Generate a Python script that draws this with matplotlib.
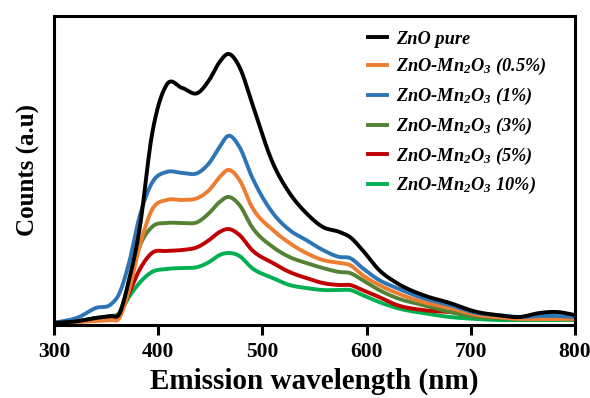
import matplotlib
matplotlib.use('Agg')
import matplotlib.pyplot as plt
import numpy as np

plt.rcParams['font.family'] = 'Liberation Serif'
plt.rcParams['mathtext.fontset'] = 'custom'
plt.rcParams['mathtext.rm'] = 'Liberation Serif:italic:bold'
plt.rcParams['mathtext.it'] = 'Liberation Serif:italic:bold'
plt.rcParams['mathtext.bf'] = 'Liberation Serif:italic:bold'

# wavelength grid (nm) and PL counts (a.u.)
wl = [300, 324, 340, 355, 362, 372, 382, 394, 408, 423, 438, 449, 459, 467, 478,
      490, 510, 526, 542, 558, 574, 584, 596, 612, 629, 654, 680, 706, 725, 747,
      766, 783, 800]

zno_pure = [2, 4, 7, 9, 10, 45, 95, 190, 240, 237, 232, 245, 263, 271, 258,
            222, 162, 132, 112, 98, 93, 88, 75, 55, 42, 30, 22, 13, 10, 8,
            12, 13, 10]
mn_05 = [2, 3, 4, 5, 6, 35, 78, 115, 125, 125, 127, 135, 148, 155, 145,
         118, 95, 82, 72, 65, 62, 60, 50, 40, 32, 23, 17, 10, 8, 6,
         6, 6, 6]
mn_1 = [2, 8, 17, 21, 30, 62, 108, 142, 153, 152, 152, 162, 178, 189, 178,
        148, 112, 95, 85, 75, 68, 67, 57, 45, 37, 27, 20, 12, 10, 8,
        9, 9, 8]
mn_3 = [2, 4, 7, 9, 11, 42, 78, 98, 102, 102, 103, 112, 123, 128, 120,
        98, 78, 68, 62, 57, 53, 52, 45, 35, 27, 20, 13, 8, 7, 6,
        6, 6, 6]
mn_5 = [2, 4, 6, 8, 10, 32, 55, 72, 74, 75, 78, 85, 93, 96, 90,
        75, 62, 53, 47, 42, 40, 40, 35, 28, 20, 15, 13, 10, 8, 7,
        7, 7, 7]
mn_10 = [2, 4, 7, 9, 11, 28, 42, 53, 56, 57, 58, 63, 70, 72, 69,
         57, 47, 40, 37, 35, 35, 35, 30, 23, 17, 12, 8, 6, 5, 5,
         5, 5, 5]

labels = ['ZnO pure',
          'ZnO-Mn$_2$O$_3$ (0.5%)',
          'ZnO-Mn$_2$O$_3$ (1%)',
          'ZnO-Mn$_2$O$_3$ (3%)',
          'ZnO-Mn$_2$O$_3$ (5%)',
          'ZnO-Mn$_2$O$_3$ 10%)']
colors = ['#000000', '#ED7D31', '#2E75B6', '#548235', '#C00000', '#00B050']
series = [zno_pure, mn_05, mn_1, mn_3, mn_5, mn_10]


def smooth(x, y, n=600):
    """Hermite spline through the read points so the spectra look smooth"""
    x = np.asarray(x, float)
    y = np.asarray(y, float)
    xs = np.linspace(x[0], x[-1], n)
    m = np.gradient(y, x)
    idx = np.clip(np.searchsorted(x, xs) - 1, 0, len(x) - 2)
    h = x[idx + 1] - x[idx]
    t = (xs - x[idx]) / h
    h00 = 2 * t**3 - 3 * t**2 + 1
    h10 = t**3 - 2 * t**2 + t
    h01 = -2 * t**3 + 3 * t**2
    h11 = t**3 - t**2
    ys = h00 * y[idx] + h10 * h * m[idx] + h01 * y[idx + 1] + h11 * h * m[idx + 1]
    return xs, ys


fig = plt.figure(figsize=(5.9, 3.98), dpi=100)
ax = fig.add_axes([0.0915, 0.1834, 0.883, 0.7766])

# lowest first, black on top
order = [5, 4, 3, 1, 2, 0]
lines = {}
for i in order:
    xs, ys = smooth(wl, series[i])
    lines[i], = ax.plot(xs, ys, color=colors[i], lw=2.8, label=labels[i])

ax.set_xlim(300, 800)
ax.set_ylim(0, 309)
ax.set_xticks([300, 400, 500, 600, 700, 800])
ax.set_yticks([])
ax.tick_params(axis='x', direction='out', length=7, width=2.2, labelsize=15.5, pad=5)
for lbl in ax.get_xticklabels():
    lbl.set_fontweight('bold')
for sp in ax.spines.values():
    sp.set_linewidth(2.2)

ax.set_xlabel('Emission wavelength (nm)', fontsize=21, fontweight='bold', labelpad=4.5)
ax.set_ylabel('Counts (a.u)', fontsize=18, fontweight='bold', labelpad=10)

leg = ax.legend([lines[i] for i in range(6)], labels, loc='upper left',
                frameon=False, handlelength=1.05, handletextpad=0.45,
                labelspacing=0.47, borderaxespad=0.0, borderpad=0.0,
                bbox_to_anchor=(0.603, 0.952),
                prop={'family': 'Liberation Serif', 'style': 'italic',
                      'weight': 'bold', 'size': 13.2})

fig.savefig('out.png', dpi=100)
